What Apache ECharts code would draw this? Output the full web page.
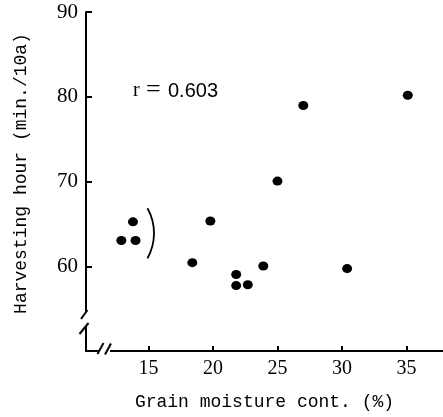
<!DOCTYPE html>
<html><head><meta charset="utf-8">
<script src="https://cdn.jsdelivr.net/npm/echarts@6.0.0/dist/echarts.min.js"></script>
<style>html,body{margin:0;padding:0;background:#fff}#c{width:443px;height:417px}</style>
</head><body><div id="c"></div>
<script>
// Data
const moisture    = [12.9, 13.8, 14.0, 18.4, 19.8, 21.8, 21.8, 22.7, 23.9, 25.0, 27.0, 30.4, 35.1];
const harvestHour = [63.1, 65.3, 63.1, 60.5, 65.4, 59.1, 57.8, 57.9, 60.1, 70.1, 79.0, 59.8, 80.2];
const xTicks = [15, 20, 25, 30, 35];
const yTicks = [60, 70, 80, 90];
const xTitle = 'Grain moisture cont. (%)';
const yTitle = 'Harvesting hour (min./10a)';
const rValue = '0.603';

const points = moisture.map((m, i) => [m, harvestHour[i]]);
const chart = echarts.init(document.getElementById('c'), null, {renderer: 'canvas'});
const serif = 'Liberation Serif';
const mono = 'Liberation Mono';
const axisCommon = {
  type: 'value',
  splitLine: {show: false},
  axisLine: {show: true, lineStyle: {color: '#000', width: 2}},
  axisTick: {show: true, inside: true, length: 6, lineStyle: {color: '#000', width: 2}},
  nameLocation: 'middle',
  nameTextStyle: {fontFamily: mono, fontSize: 18, color: '#000'}
};
chart.setOption({
  animation: false,
  backgroundColor: '#fff',
  grid: {left: 86, right: 0, top: 12, bottom: 66},
  xAxis: Object.assign({}, axisCommon, {
    min: 10.16, max: 37.83,
    name: xTitle, nameGap: 42,
    axisTick: Object.assign({}, axisCommon.axisTick, {customValues: xTicks, length: 5}),
    axisLabel: {customValues: xTicks, fontFamily: serif, fontSize: 20, color: '#000', margin: 8}
  }),
  yAxis: Object.assign({}, axisCommon, {
    min: 50.1, max: 90,
    name: yTitle, nameGap: 56,
    nameTextStyle: {fontFamily: mono, fontSize: 18, color: '#000', padding: [0, 0, 0, 16]},
    axisTick: Object.assign({}, axisCommon.axisTick, {customValues: yTicks}),
    axisLabel: {customValues: yTicks, fontFamily: serif, fontSize: 21, color: '#000', margin: 8}
  }),
  series: [{
    type: 'scatter',
    data: points,
    symbol: 'circle',
    symbolSize: [10, 9],
    itemStyle: {color: '#000', opacity: 1}
  }],
  graphic: [
    {type: 'text', z: 100, style: {x: 133, y: 91, text: 'r', font: '20px "Liberation Serif"', fill: '#000', verticalAlign: 'middle'}},
    {type: 'text', z: 100, style: {x: 146, y: 90, text: '=', font: '26px "Liberation Serif"', fill: '#000', verticalAlign: 'middle'}},
    {type: 'text', z: 100, style: {x: 168, y: 91, text: rValue, font: '20px "Liberation Sans"', fill: '#000', verticalAlign: 'middle'}},
    {type: 'arc', z: 100, shape: {cx: 102.7, cy: 233.3, r: 51.3, startAngle: -0.51, endAngle: 0.51},
      style: {stroke: '#000', lineWidth: 1.8, fill: null}},
    // axis breaks
    {type: 'rect', z: 100, shape: {x: 81, y: 312, width: 10, height: 15}, style: {fill: '#fff'}},
    {type: 'line', z: 101, shape: {x1: 81, y1: 319, x2: 87.5, y2: 310}, style: {stroke: '#000', lineWidth: 2}},
    {type: 'line', z: 101, shape: {x1: 79.5, y1: 334, x2: 88.5, y2: 323}, style: {stroke: '#000', lineWidth: 2}},
    {type: 'rect', z: 100, shape: {x: 99, y: 347, width: 11, height: 8}, style: {fill: '#fff'}},
    {type: 'line', z: 101, shape: {x1: 97.5, y1: 354, x2: 103.5, y2: 343}, style: {stroke: '#000', lineWidth: 2}},
    {type: 'line', z: 101, shape: {x1: 105, y1: 354.5, x2: 111, y2: 343.5}, style: {stroke: '#000', lineWidth: 2}}
  ]
});
</script>
</body></html>
